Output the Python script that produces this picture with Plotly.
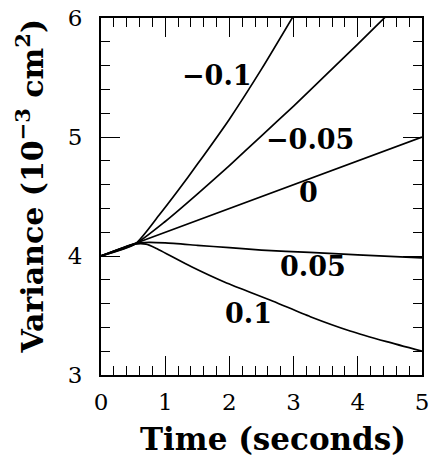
import plotly.graph_objects as go

# Curves: time (s) and variance (10^-3 cm^2)
t_m010 = [0.0, 0.53, 0.9, 1.2, 1.5, 2.0, 2.5, 3.0]
v_m010 = [4.0, 4.10, 4.34, 4.55, 4.77, 5.15, 5.57, 6.02]

t_m005 = [0.0, 0.53, 1.0, 1.5, 2.0, 2.5, 3.0, 3.5, 4.0, 4.45]
v_m005 = [4.0, 4.10, 4.29, 4.52, 4.76, 5.01, 5.26, 5.52, 5.78, 6.02]

t_0 = [0.0, 0.53, 5.0]
v_0 = [4.0, 4.105, 5.0]

t_p005 = [0.0, 0.53, 0.75, 1.0, 1.5, 2.0, 2.5, 3.25, 4.0, 5.0]
v_p005 = [4.0, 4.105, 4.115, 4.11, 4.09, 4.07, 4.05, 4.03, 4.01, 3.985]

t_p010 = [0.0, 0.53, 0.7, 0.84, 1.41, 1.93, 2.68, 3.26, 3.88, 4.45, 5.0]
v_p010 = [4.0, 4.10, 4.10, 4.07, 3.91, 3.78, 3.62, 3.49, 3.37, 3.28, 3.20]

series = [(t_m010, v_m010), (t_m005, v_m005), (t_0, v_0), (t_p005, v_p005), (t_p010, v_p010)]

label_text = ["\u22120.1", "\u22120.05", "0", "0.05", "0.1"]
label_t = [1.80, 3.25, 3.23, 3.30, 2.30]
label_v = [5.52, 4.98, 4.53, 3.91, 3.52]

x_ticks = [0, 1, 2, 3, 4, 5]
y_ticks = [3, 4, 5, 6]

fig = go.Figure()
for tx, vy in series:
    fig.add_trace(go.Scatter(x=tx, y=vy, mode="lines",
                             line=dict(color="black", width=1.7, shape="spline", smoothing=0.6),
                             showlegend=False, hoverinfo="skip"))

for txt, lx, ly in zip(label_text, label_t, label_v):
    fig.add_annotation(x=lx, y=ly, text=txt, showarrow=False,
                       font=dict(family="DejaVu Serif", size=27, color="black", weight="bold"))

fig.add_annotation(xref="paper", yref="paper", x=0.535, y=-0.18, text="Time (seconds)",
                   showarrow=False, yanchor="middle",
                   font=dict(family="DejaVu Serif", size=31, color="black", weight="bold"))
fig.add_annotation(xref="paper", yref="paper", x=-0.222, y=0.53,
                   text="Variance (10<sup>\u22123</sup> cm<sup>2</sup>)",
                   showarrow=False, textangle=-90, xanchor="center", yanchor="middle",
                   font=dict(family="DejaVu Serif", size=30, color="black", weight="bold"))

axis_common = dict(showline=True, linecolor="black", linewidth=1.8, mirror="allticks",
                   ticks="inside", tickcolor="black", tickwidth=1.4, ticklen=19,
                   showgrid=False, zeroline=False, ticklabeloverflow="allow",
                   automargin=False,
                   tickfont=dict(family="DejaVu Serif", size=23, color="black"))

fig.update_xaxes(range=[0, 5], tickvals=x_ticks, ticktext=[str(v) for v in x_ticks],
                 ticklabelstandoff=5,
                 minor=dict(ticks="inside", ticklen=9, tickwidth=1.2, tickcolor="black", dtick=0.2, tick0=0),
                 **axis_common)
fig.update_yaxes(range=[3, 6], tickvals=y_ticks, ticktext=[str(v) for v in y_ticks],
                 ticklabelstandoff=12,
                 minor=dict(ticks="inside", ticklen=9, tickwidth=1.2, tickcolor="black", dtick=0.2, tick0=3),
                 **axis_common)

fig.update_layout(width=430, height=448, margin=dict(l=93, r=16, t=10, b=81, autoexpand=False),
                  plot_bgcolor="white", paper_bgcolor="white")

fig.write_html("out.html")
